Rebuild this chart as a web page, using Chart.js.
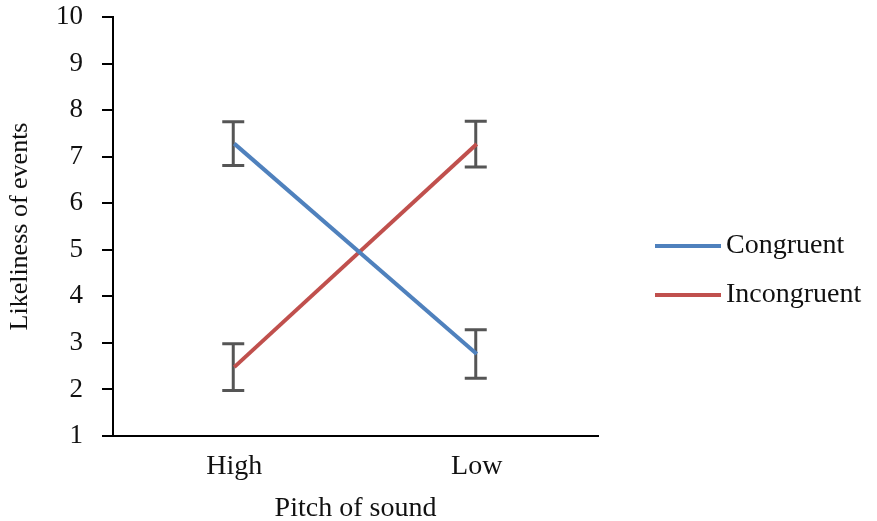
<!DOCTYPE html>
<html>
<head>
<meta charset="utf-8">
<script src="https://cdn.jsdelivr.net/npm/chart.js@4"></script>
<style>
  html, body { margin: 0; padding: 0; background: #fff; }
  #wrap { width: 877px; height: 521px; }
</style>
</head>
<body>
<div id="wrap"><canvas id="chart" width="877" height="521"></canvas></div>
<script>
const categories = ['High', 'Low'];
const congruent = [7.28, 2.76];
const congruentErr = [0.47, 0.52];
const incongruent = [2.48, 7.27];
const incongruentErr = [0.5, 0.49];
const yTicks = [1, 2, 3, 4, 5, 6, 7, 8, 9, 10];

const serif = '"Liberation Serif", "Times New Roman", serif';

// error bars sit under the lines
const errorBars = {
  id: 'errorBars',
  beforeDatasetsDraw(chart) {
    const { ctx, scales: { x, y } } = chart;
    ctx.save();
    ctx.strokeStyle = '#555';
    ctx.lineWidth = 3;
    chart.data.datasets.forEach(ds => {
      ds.data.forEach((v, i) => {
        const px = x.getPixelForValue(i) - 1;
        const top = y.getPixelForValue(v + ds.err[i]);
        const bot = y.getPixelForValue(v - ds.err[i]);
        ctx.beginPath();
        ctx.moveTo(px, top); ctx.lineTo(px, bot);
        ctx.moveTo(px - 11, top); ctx.lineTo(px + 11, top);
        ctx.moveTo(px - 11, bot); ctx.lineTo(px + 11, bot);
        ctx.stroke();
      });
    });
    ctx.restore();
  }
};

const sideLegend = {
  id: 'sideLegend',
  afterDraw(chart) {
    const { ctx } = chart;
    const rows = [246, 295];
    ctx.save();
    ctx.font = '28px ' + serif;
    ctx.textBaseline = 'middle';
    chart.data.datasets.forEach((ds, i) => {
      ctx.strokeStyle = ds.borderColor;
      ctx.lineWidth = 4;
      ctx.beginPath();
      ctx.moveTo(655, rows[i]);
      ctx.lineTo(721, rows[i]);
      ctx.stroke();
      ctx.fillStyle = '#111';
      ctx.fillText(ds.label, 726, rows[i]);
    });
    ctx.restore();
  }
};

new Chart(document.getElementById('chart'), {
  type: 'line',
  data: {
    labels: categories,
    datasets: [
      { label: 'Congruent', data: congruent, err: congruentErr, borderColor: '#4F81BD', borderWidth: 4, pointRadius: 0, tension: 0 },
      { label: 'Incongruent', data: incongruent, err: incongruentErr, borderColor: '#C0504D', borderWidth: 4, pointRadius: 0, tension: 0 }
    ]
  },
  options: {
    responsive: false,
    animation: false,
    layout: { autoPadding: false, padding: { top: 17, right: 279, bottom: 0, left: 0 } },
    plugins: { legend: { display: false }, tooltip: { enabled: false } },
    scales: {
      x: {
        offset: true,
        grid: { display: false, drawTicks: false },
        border: { color: '#000', width: 2 },
        ticks: { color: '#111', font: { family: serif, size: 28 }, padding: 14 },
        title: { display: true, text: 'Pitch of sound', color: '#111', font: { family: serif, size: 28 }, padding: { top: 0, bottom: -4 } },
        afterFit(scale) { scale.height = 85; scale.paddingLeft = 0; scale.paddingRight = 0; }
      },
      y: {
        min: 1, max: 10,
        afterBuildTicks(scale) { scale.ticks = yTicks.map(v => ({ value: v })); },
        grid: { drawOnChartArea: false, drawTicks: true, tickLength: 11, color: '#000', lineWidth: 2 },
        border: { color: '#000', width: 2 },
        ticks: { color: '#111', font: { family: serif, size: 27 }, padding: 19 },
        title: { display: true, text: 'Likeliness of events', color: '#111', font: { family: serif, size: 26 }, padding: { top: 5, bottom: 0 } },
        afterFit(scale) { scale.width = 113; scale.paddingTop = 0; scale.paddingBottom = 0; }
      }
    }
  },
  plugins: [errorBars, sideLegend]
});
</script>
</body>
</html>
